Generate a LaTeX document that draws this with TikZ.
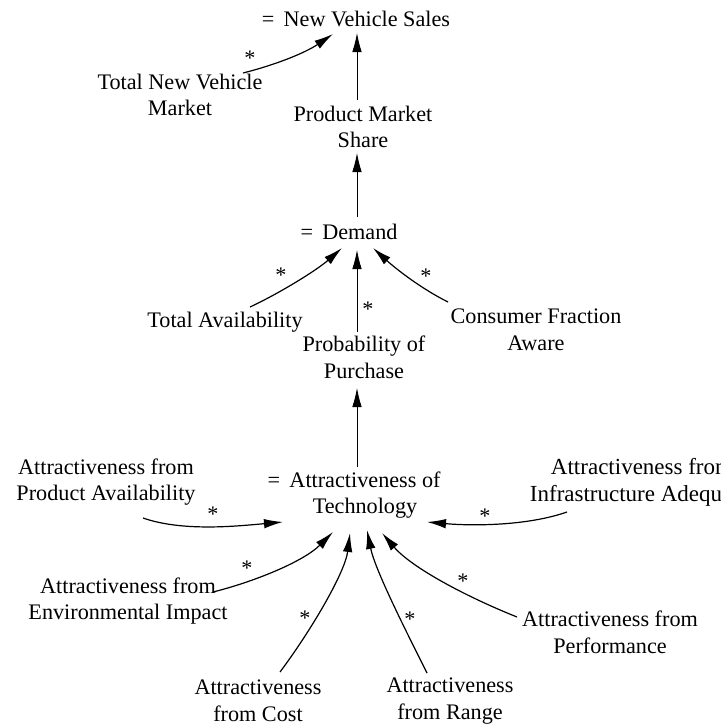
\documentclass[tikz,border=0pt]{standalone}
\usepackage{fontspec}
\setmainfont{Liberation Serif}
\usetikzlibrary{arrows.meta}
\begin{document}
\begin{tikzpicture}[x=1pt,y=-1pt,
  lbl/.style={font=\fontsize{22.2}{26.8}\selectfont, align=center, inner sep=0pt},
  ast/.style={font=\fontsize{22.2}{26.8}\selectfont, inner sep=0pt, anchor=base},
  link/.style={line width=1.2pt, -{Latex[length=19pt,width=9.5pt]}},
  vlink/.style={line width=0.8pt, -{Latex[length=19pt,width=9.5pt]}}]
\path[use as bounding box, clip] (0,0) rectangle (720,728);
\fill[white] (0,0) rectangle (720,728);
% nodes
\node[lbl] (nvs) at (356,19) {=\ \,New Vehicle Sales};
\node[lbl] (tnvm) at (180,95) {Total New Vehicle\\Market};
\node[lbl] (pms) at (363,127) {Product Market\\Share};
\node[lbl] (dem) at (349,232) {=\ \,Demand};
\node[lbl] (ta) at (225,322) {Total Availability};
\node[lbl] (pop) at (364,357) {Probability of\\Purchase};
\node[lbl] (cfa) at (536,330) {Consumer Fraction\\Aware};
\node[lbl] (apa) at (106,482) {Attractiveness from\\Product Availability};
\node[lbl] (aot) at (365,495) {\llap{=\ \,}Attractiveness of\\Technology};
\node[lbl, font=\fontsize{23}{26.8}\selectfont] (aia) at (642,482.5) {Attractiveness from\\Infrastructure Adequacy};
\node[lbl] (aei) at (128,601) {Attractiveness from\\Environmental Impact};
\node[lbl] (aperf) at (610,632) {Attractiveness from\\Performance};
\node[lbl] (acost) at (258,701) {Attractiveness\\from Cost};
\node[lbl] (arange) at (450,701) {Attractiveness\\from Range};
% connectors
\draw[link] ([shift={(63,-22)}]tnvm.center) .. controls +(32,-8) and +(-28,19) .. ([shift={(-23,15)}]nvs.center);
\draw[vlink] ([shift={(-6,-27)}]pms.center) -- ([shift={(1,14)}]nvs.center);
\draw[vlink] ([shift={(8,-15)}]dem.center) -- ([shift={(-6,26)}]pms.center);
\draw[link] ([shift={(25,-15)}]ta.center) .. controls +(30,-14) and +(-25,22) .. ([shift={(-7,16)}]dem.center);
\draw[vlink] ([shift={(-7,-25)}]pop.center) -- ([shift={(8,18)}]dem.center);
\draw[link] ([shift={(-88,-28)}]cfa.center) .. controls +(-28,-14) and +(22,20) .. ([shift={(24,16)}]dem.center);
\draw[vlink] ([shift={(-8,-28)}]aot.center) -- ([shift={(-7,31)}]pop.center);
\draw[link] ([shift={(37,36)}]apa.center) .. controls +(40,14) and +(-45,4) .. ([shift={(-82,27)}]aot.center);
\draw[link] ([shift={(-75,29.5)}]aia.center) .. controls +(-40,14) and +(45,4) .. ([shift={(62,27)}]aot.center);
\draw[link] ([shift={(85,-9)}]aei.center) .. controls +(40,-10) and +(-30,30) .. ([shift={(-32,37)}]aot.center);
\draw[link] ([shift={(22,-29)}]acost.center) .. controls +(30,-40) and +(-5,40) .. ([shift={(-15,38)}]aot.center);
\draw[link] ([shift={(-23,-28)}]arange.center) .. controls +(-20,-40) and +(8,40) .. ([shift={(2,35)}]aot.center);
\draw[link] ([shift={(-93,-15)}]aperf.center) .. controls +(-50,-20) and +(30,35) .. ([shift={(17,38)}]aot.center);
% asterisks
\node[ast] (s1) at (250,65.5) {*};
\node[ast] (s2) at (281,282.5) {*};
\node[ast] (s3) at (368,316.5) {*};
\node[ast] (s4) at (426,283.5) {*};
\node[ast] (s5) at (213,521) {*};
\node[ast] (s6) at (485,523) {*};
\node[ast] (s7) at (247,575.5) {*};
\node[ast] (s8) at (305,625.5) {*};
\node[ast] (s9) at (410,626.5) {*};
\node[ast] (s10) at (463,588.5) {*};
\end{tikzpicture}
\end{document}
